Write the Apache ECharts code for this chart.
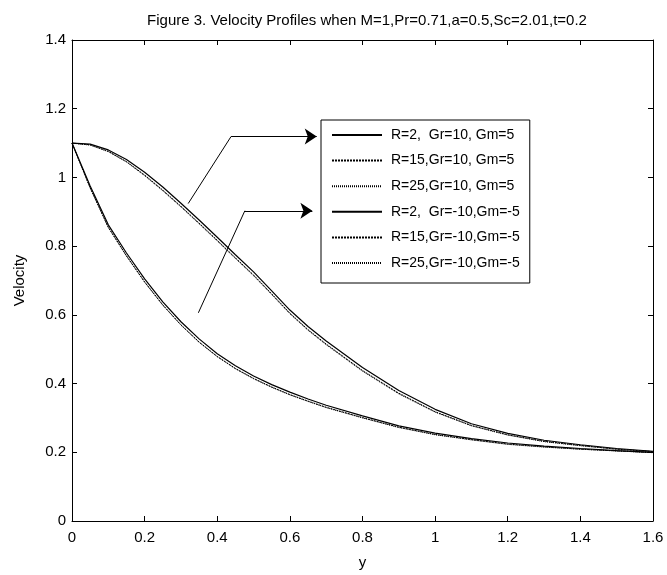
<!DOCTYPE html>
<html>
<head>
<meta charset="utf-8">
<script src="https://cdn.jsdelivr.net/npm/echarts@6/dist/echarts.min.js"></script>
<style>
html,body{margin:0;padding:0;background:#fff;}
#c{width:667px;height:575px;}
</style>
</head>
<body>
<div id="c"></div>
<script>
var titleText = 'Figure 3. Velocity Profiles when M=1,Pr=0.71,a=0.5,Sc=2.01,t=0.2';
var xName = 'y';
var yName = 'Velocity';
var seriesNames = [
  'R=2,  Gr=10, Gm=5',
  'R=15,Gr=10, Gm=5',
  'R=25,Gr=10, Gm=5',
  'R=2,  Gr=-10,Gm=-5',
  'R=15,Gr=-10,Gm=-5',
  'R=25,Gr=-10,Gm=-5'
];
var yPos = [0, 0.05, 0.1, 0.15, 0.2, 0.25, 0.3, 0.35, 0.4, 0.45, 0.5, 0.55, 0.6, 0.65, 0.7, 0.8, 0.9, 1.0, 1.1, 1.2, 1.3, 1.4, 1.5, 1.6];
var r2Gr10   = [1.100, 1.097, 1.080, 1.052, 1.015, 0.972, 0.925, 0.876, 0.826, 0.775, 0.725, 0.670, 0.614, 0.566, 0.524, 0.447, 0.380, 0.325, 0.283, 0.255, 0.235, 0.222, 0.211, 0.203];
var r15Gr10  = [1.100, 1.095, 1.076, 1.046, 1.007, 0.963, 0.916, 0.867, 0.817, 0.766, 0.716, 0.661, 0.605, 0.557, 0.515, 0.438, 0.372, 0.318, 0.278, 0.251, 0.232, 0.220, 0.209, 0.202];
var r25Gr10  = [1.100, 1.094, 1.075, 1.045, 1.005, 0.961, 0.914, 0.865, 0.815, 0.764, 0.714, 0.659, 0.603, 0.555, 0.513, 0.436, 0.370, 0.317, 0.277, 0.250, 0.231, 0.219, 0.209, 0.202];
var r2Grm10  = [1.100, 0.975, 0.862, 0.780, 0.705, 0.638, 0.580, 0.530, 0.487, 0.452, 0.422, 0.397, 0.375, 0.355, 0.337, 0.306, 0.277, 0.256, 0.240, 0.227, 0.218, 0.211, 0.205, 0.200];
var r15Grm10 = [1.100, 0.970, 0.855, 0.772, 0.696, 0.629, 0.571, 0.521, 0.479, 0.444, 0.415, 0.390, 0.368, 0.349, 0.331, 0.301, 0.273, 0.252, 0.237, 0.224, 0.216, 0.209, 0.204, 0.199];
var r25Grm10 = [1.100, 0.969, 0.854, 0.771, 0.695, 0.628, 0.570, 0.520, 0.478, 0.443, 0.414, 0.389, 0.367, 0.348, 0.330, 0.300, 0.272, 0.251, 0.236, 0.223, 0.215, 0.209, 0.204, 0.199];
var xTicks = [0, 0.2, 0.4, 0.6, 0.8, 1, 1.2, 1.4, 1.6];
var yTicks = [0, 0.2, 0.4, 0.6, 0.8, 1, 1.2, 1.4];
// annotation arrows (data coordinates): stem segment + arrow segment
var arrowUpperStem = [[0.320, 0.924], [0.438, 1.119]];
var arrowUpperHead = [[0.438, 1.119], [0.674, 1.119]];
var arrowLowerStem = [[0.348, 0.606], [0.476, 0.903]];
var arrowLowerHead = [[0.476, 0.903], [0.662, 0.903]];

var allValues = [r2Gr10, r15Gr10, r25Gr10, r2Grm10, r15Grm10, r25Grm10];
var lineTypes = ['solid', [2, 1], [1, 1], 'solid', [2, 1], [1, 1]];
var lineWidths = [1.2, 1, 1, 1.2, 1, 1];

var FONT = '"Liberation Sans", Arial, Helvetica, sans-serif';

function pairs(xs, ys){ return xs.map(function(x, i){ return [x, ys[i]]; }); }

var series = seriesNames.map(function(n, i){
  return {
    name: n, type: 'line', xAxisIndex: 0, yAxisIndex: 0,
    data: pairs(yPos, allValues[i]),
    symbol: 'none', showSymbol: false, smooth: false,
    lineStyle: { color: '#000', width: lineWidths[i], type: lineTypes[i] },
    itemStyle: { color: '#000' },
    silent: true, z: 3
  };
});
series.push({
  type: 'lines', coordinateSystem: 'cartesian2d', xAxisIndex: 0, yAxisIndex: 0,
  silent: true, z: 4, symbol: 'none',
  lineStyle: { color: '#000', width: 1, opacity: 1, curveness: 0 },
  data: [{ coords: arrowUpperStem }, { coords: arrowLowerStem }]
});
series.push({
  type: 'lines', coordinateSystem: 'cartesian2d', xAxisIndex: 0, yAxisIndex: 0,
  silent: true, z: 4,
  symbol: ['none', 'arrow'], symbolSize: [8, 12],
  lineStyle: { color: '#000', width: 1, opacity: 1, curveness: 0 },
  data: [{ coords: arrowUpperHead }, { coords: arrowLowerHead }]
});

var xMin = xTicks[0], xMax = xTicks[xTicks.length - 1];
var yMin = yTicks[0], yMax = yTicks[yTicks.length - 1];
var xInt = xTicks[1] - xTicks[0], yInt = yTicks[1] - yTicks[0];

function fmt(v){ return String(+v.toFixed(2)); }

var chart = echarts.init(document.getElementById('c'), null, { renderer: 'canvas' });
chart.setOption({
  backgroundColor: '#fff',
  animation: false,
  title: {
    text: titleText, left: 362, top: 8, textAlign: 'center',
    textStyle: { fontFamily: FONT, fontSize: 15, fontWeight: 'normal', color: '#000' }
  },
  grid: { left: 72, right: 14, top: 40, bottom: 53, containLabel: false },
  legend: {
    data: seriesNames, orient: 'vertical', left: 321, top: 120,
    itemWidth: 50, itemHeight: 14, itemGap: 11.6,
    padding: [8, 10, 13, 10],
    backgroundColor: '#fff', borderColor: '#000', borderWidth: 1,
    itemStyle: { color: 'rgba(0,0,0,0)', borderWidth: 0, opacity: 0 },
    textStyle: { fontFamily: FONT, fontSize: 14, lineHeight: 14, color: '#000', padding: [0, 0, 0, 4] },
    selectedMode: false, z: 10
  },
  xAxis: [{
    type: 'value', min: xMin, max: xMax, interval: xInt, position: 'bottom',
    name: xName, nameLocation: 'middle', nameGap: 34,
    nameTextStyle: { fontFamily: FONT, fontSize: 15, color: '#000' },
    axisLine: { show: true, onZero: false, lineStyle: { color: '#000', width: 1 } },
    axisTick: { show: true, inside: true, length: 5, lineStyle: { color: '#000' } },
    axisLabel: { fontFamily: FONT, fontSize: 15, color: '#000', margin: 9, formatter: fmt },
    splitLine: { show: false }
  }, {
    type: 'value', min: xMin, max: xMax, interval: xInt, position: 'top',
    axisLine: { show: true, onZero: false, lineStyle: { color: '#000', width: 1 } },
    axisTick: { show: true, inside: true, length: 5, lineStyle: { color: '#000' } },
    axisLabel: { show: false }, splitLine: { show: false }
  }],
  yAxis: [{
    type: 'value', min: yMin, max: yMax, interval: yInt, position: 'left',
    name: yName, nameLocation: 'middle', nameGap: 45,
    nameTextStyle: { fontFamily: FONT, fontSize: 15, color: '#000' },
    axisLine: { show: true, onZero: false, lineStyle: { color: '#000', width: 1 } },
    axisTick: { show: true, inside: true, length: 5, lineStyle: { color: '#000' } },
    axisLabel: { fontFamily: FONT, fontSize: 15, color: '#000', margin: 6, formatter: fmt },
    splitLine: { show: false }
  }, {
    type: 'value', min: yMin, max: yMax, interval: yInt, position: 'right',
    axisLine: { show: true, onZero: false, lineStyle: { color: '#000', width: 1 } },
    axisTick: { show: true, inside: true, length: 5, lineStyle: { color: '#000' } },
    axisLabel: { show: false }, splitLine: { show: false }
  }],
  series: series
});
</script>
</body>
</html>
